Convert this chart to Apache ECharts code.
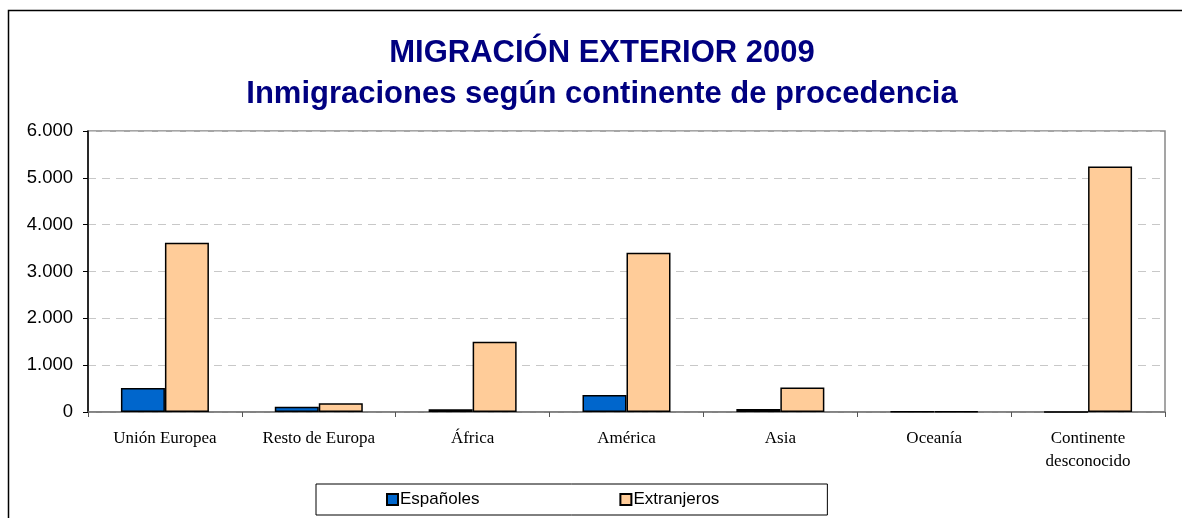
<!DOCTYPE html>
<html>
<head>
<meta charset="utf-8">
<script src="https://cdn.jsdelivr.net/npm/echarts@6/dist/echarts.min.js"></script>
<style>
  html, body { margin: 0; padding: 0; background: #fff; }
  #chart { width: 1182px; height: 518px; }
</style>
</head>
<body>
<div id="chart"></div>
<script>
  // datos
  var categories = ['Unión Europea', 'Resto de Europa', 'África', 'América', 'Asia', 'Oceanía', 'Continente\ndesconocido'];
  var espanoles = [515, 112, 58, 362, 62, 10, 0];
  var extranjeros = [3615, 185, 1500, 3400, 525, 14, 5240];
  var seriesNames = ['Españoles', 'Extranjeros'];
  var yTicks = [0, 1000, 2000, 3000, 4000, 5000, 6000];
  var titleLines = ['MIGRACIÓN EXTERIOR 2009', 'Inmigraciones según continente de procedencia'];

  var chart = echarts.init(document.getElementById('chart'));

  function miles(v) {
    return String(v).replace(/\B(?=(\d{3})+(?!\d))/g, '.');
  }

  var titleStyle = {
    fill: '#000080',
    font: 'bold 31px "Liberation Sans", Arial, sans-serif',
    textAlign: 'center',
    textVerticalAlign: 'middle'
  };

  chart.setOption({
    backgroundColor: '#fff',
    animation: false,
    graphic: [{
      type: 'rect',
      shape: { x: 8.5, y: 10.5, width: 1200, height: 600 },
      style: { fill: 'none', stroke: '#000', lineWidth: 1.5 },
      silent: true
    }, {
      type: 'text',
      x: 602, y: 53,
      style: Object.assign({ text: titleLines[0] }, titleStyle),
      silent: true
    }, {
      type: 'text',
      x: 602, y: 94,
      style: Object.assign({ text: titleLines[1] }, titleStyle),
      silent: true
    }],
    legend: {
      data: seriesNames,
      left: 316,
      top: 484,
      padding: [7, 108, 7, 70],
      itemGap: 140,
      itemWidth: 11,
      itemHeight: 11,
      icon: 'rect',
      borderColor: '#000',
      borderWidth: 1,
      textStyle: {
        color: '#000',
        fontFamily: 'Liberation Sans, Arial, sans-serif',
        fontSize: 17,
        padding: [2, 0, 0, -3]
      }
    },
    grid: {
      left: 88,
      right: 17,
      top: 131,
      bottom: 106,
      show: true,
      borderColor: '#888',
      borderWidth: 1.5,
      backgroundColor: '#fff'
    },
    xAxis: {
      type: 'category',
      data: categories,
      axisLine: { lineStyle: { color: '#777', width: 1.5 } },
      axisTick: { show: true, length: 5, lineStyle: { color: '#555' } },
      axisLabel: {
        color: '#000',
        fontFamily: 'Liberation Serif, Times New Roman, serif',
        fontSize: 17,
        lineHeight: 23,
        margin: 15,
        interval: 0
      }
    },
    yAxis: {
      type: 'value',
      min: yTicks[0],
      max: yTicks[yTicks.length - 1],
      interval: yTicks[1] - yTicks[0],
      axisLine: { show: true, lineStyle: { color: '#000', width: 1.5 } },
      axisTick: { show: true, length: 5, lineStyle: { color: '#000' } },
      axisLabel: {
        color: '#000',
        fontFamily: 'Liberation Sans, Arial, sans-serif',
        fontSize: 18.5,
        margin: 15,
        formatter: miles
      },
      splitLine: {
        show: true,
        lineStyle: { color: '#c8c8c8', type: [8, 6], width: 1 }
      }
    },
    series: [{
      name: seriesNames[0],
      type: 'bar',
      data: espanoles,
      barWidth: 44,
      barGap: '0%',
      itemStyle: { color: '#0066cc', borderColor: '#000', borderWidth: 1.5 }
    }, {
      name: seriesNames[1],
      type: 'bar',
      data: extranjeros,
      barWidth: 44,
      barGap: '0%',
      itemStyle: { color: '#ffcc99', borderColor: '#000', borderWidth: 1.5 }
    }]
  });
</script>
</body>
</html>
